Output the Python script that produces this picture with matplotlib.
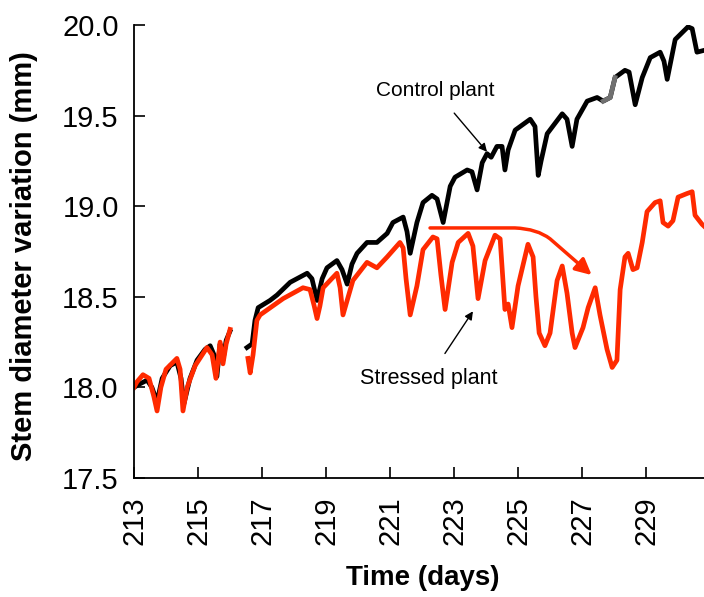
import numpy as np
import matplotlib
matplotlib.use("Agg")
import matplotlib.pyplot as plt
from matplotlib.patches import FancyArrowPatch
from matplotlib.path import Path

plt.rcParams["font.family"] = ["Liberation Sans", "DejaVu Sans"]

nan = np.nan

# control plant (black), day of year vs stem diameter (mm); nan = logger gap
control_day = [213.00, 213.19, 213.41, 213.56, 213.72, 213.88, 214.13, 214.34, 214.47,
               214.56, 214.75, 214.97, 215.22, 215.38, 215.50, 215.59, 215.69, 215.78,
               215.88, 216.00, 216.30,
               216.53, 216.69, 216.78, 216.88, 217.25, 217.47, 217.88, 218.41, 218.56,
               218.72, 218.88, 219.03, 219.34, 219.50, 219.66, 219.81, 219.97, 220.28,
               220.59, 220.91, 221.09, 221.41, 221.53, 221.63, 221.84, 222.03, 222.31,
               222.47, 222.66, 222.88, 223.03, 223.41, 223.56, 223.72, 223.88, 224.03,
               224.16, 224.34, 224.50, 224.59, 224.69, 224.91, 225.38, 225.53, 225.63,
               225.72, 225.91, 226.38, 226.53, 226.69, 226.84, 227.16, 227.47, 227.66,
               227.88, 228.03, 228.34, 228.47, 228.66, 228.88, 229.13, 229.44, 229.56,
               229.66, 229.91, 230.31, 230.44, 230.59, 230.81]
control_mm = [18.00, 18.02, 18.04, 18.00, 17.92, 18.05, 18.12, 18.14, 18.05,
              17.91, 18.05, 18.15, 18.21, 18.23, 18.18, 18.06, 18.24, 18.15,
              18.26, 18.31, nan,
              18.22, 18.24, 18.37, 18.44, 18.48, 18.51, 18.58, 18.63, 18.60,
              18.48, 18.60, 18.66, 18.70, 18.65, 18.57, 18.68, 18.74, 18.80,
              18.80, 18.85, 18.91, 18.94, 18.86, 18.74, 18.91, 19.02, 19.06,
              19.04, 18.91, 19.11, 19.16, 19.20, 19.19, 19.09, 19.24, 19.29,
              19.27, 19.33, 19.33, 19.20, 19.31, 19.42, 19.48, 19.44, 19.17,
              19.25, 19.40, 19.51, 19.48, 19.33, 19.48, 19.58, 19.60, 19.58,
              19.60, 19.71, 19.75, 19.74, 19.56, 19.71, 19.82, 19.85, 19.80,
              19.70, 19.92, 19.99, 19.98, 19.85, 19.86]

# stressed plant (red)
stressed_day = [213.00, 213.09, 213.28, 213.47, 213.62, 213.72, 213.84, 214.00, 214.34,
                214.44, 214.53, 214.66, 214.91, 215.28, 215.44, 215.56, 215.69, 215.78,
                215.88, 216.00, 216.30,
                216.56, 216.63, 216.72, 216.84, 216.94, 217.34, 217.66, 218.28, 218.50,
                218.63, 218.72, 218.81, 218.91, 219.34, 219.44, 219.53, 219.66, 219.84,
                220.28, 220.59, 220.91, 221.31, 221.41, 221.50, 221.63, 221.84, 222.03,
                222.34, 222.47, 222.59, 222.72, 222.94, 223.13, 223.44, 223.59, 223.75,
                223.97, 224.28, 224.44, 224.59, 224.69, 224.81, 225.00, 225.31, 225.47,
                225.56, 225.66, 225.84, 226.00, 226.22, 226.38, 226.53, 226.69, 226.78,
                227.03, 227.19, 227.41, 227.56, 227.78, 227.94, 228.09, 228.19, 228.34,
                228.44, 228.59, 228.72, 228.88, 229.03, 229.28, 229.44, 229.53, 229.69,
                229.84, 230.00, 230.28, 230.44, 230.53, 230.75, 230.81]
stressed_mm = [18.00, 18.03, 18.07, 18.05, 17.95, 17.87, 18.00, 18.10, 18.16,
               18.10, 17.87, 18.00, 18.12, 18.22, 18.18, 18.05, 18.25, 18.13,
               18.24, 18.32, nan,
               18.16, 18.08, 18.18, 18.37, 18.40, 18.45, 18.49, 18.55, 18.54,
               18.45, 18.38, 18.45, 18.55, 18.63, 18.55, 18.40, 18.48, 18.59,
               18.69, 18.66, 18.72, 18.80, 18.77, 18.60, 18.40, 18.56, 18.76,
               18.83, 18.82, 18.62, 18.43, 18.69, 18.80, 18.85, 18.78, 18.49,
               18.70, 18.84, 18.82, 18.43, 18.46, 18.33, 18.56, 18.79, 18.72,
               18.50, 18.30, 18.23, 18.30, 18.59, 18.67, 18.52, 18.30, 18.22,
               18.33, 18.44, 18.55, 18.40, 18.21, 18.11, 18.15, 18.54, 18.72,
               18.74, 18.65, 18.66, 18.80, 18.97, 19.02, 19.03, 18.91, 18.89,
               18.92, 19.05, 19.07, 19.08, 18.95, 18.90, 18.89]

x_ticks = [213, 215, 217, 219, 221, 223, 225, 227, 229]
y_ticks = [17.5, 18.0, 18.5, 19.0, 19.5, 20.0]

# trend arrow over the stressed plant (start, knee, tip)
trend_start = (222.25, 18.88)
trend_knee = (224.9, 18.88)
trend_tip = (227.3, 18.62)

RED = "#ff2a00"

fig = plt.figure(figsize=(7.04, 5.97), dpi=100)
ax = fig.add_axes([134 / 704, 1 - 478 / 597, 570 / 704, 453 / 597])

ax.plot(control_day, control_mm, color="black", lw=3.4, solid_joinstyle="round")
ax.plot(control_day[74:77], control_mm[74:77], color="#707070", lw=3.4)
ax.plot(stressed_day, stressed_mm, color=RED, lw=3.4, solid_joinstyle="round")

ax.set_xlim(213, 230.81)
ax.set_ylim(17.5, 20.0)
ax.set_xticks(x_ticks)
ax.set_xticklabels([str(t) for t in x_ticks], rotation=90)
ax.set_yticks(y_ticks)
ax.set_yticklabels([f"{t:.1f}" for t in y_ticks])
ax.tick_params(axis="both", direction="in", length=8, width=1.2, labelsize=21)
ax.tick_params(axis="y", pad=11)
ax.tick_params(axis="x", pad=13)
for side in ("top", "right"):
    ax.spines[side].set_visible(False)
for side in ("left", "bottom"):
    ax.spines[side].set_linewidth(1.3)

ax.set_xlabel("Time (days)", fontsize=20, fontweight="bold")
ax.set_ylabel("Stem diameter variation (mm)", fontsize=21, fontweight="bold")
ax.xaxis.set_label_coords(0.507, -0.192)
ax.yaxis.set_label_coords(-0.168, 0.49)

ax.annotate("Control plant", xy=(224.03, 19.30), xytext=(222.4, 19.64),
            ha="center", va="center", fontsize=15,
            arrowprops=dict(arrowstyle="-|>", color="black", lw=1.0,
                            mutation_scale=12, shrinkA=10, shrinkB=0))
ax.annotate("Stressed plant", xy=(223.59, 18.42), xytext=(222.2, 18.05),
            ha="center", va="center", fontsize=15.5,
            arrowprops=dict(arrowstyle="-|>", color="black", lw=1.0,
                            mutation_scale=12, shrinkA=10, shrinkB=0))

# bent arrow: flat, then bending down toward the shrinking days
bend = Path([trend_start, trend_knee, (225.6, 18.875), (226.0, 18.82), trend_tip],
            [Path.MOVETO, Path.LINETO, Path.CURVE3, Path.CURVE3, Path.LINETO])
ax.add_patch(FancyArrowPatch(path=bend, arrowstyle="-|>", color=RED, lw=2.5,
                             mutation_scale=24))

fig.savefig("out.png", dpi=100)
